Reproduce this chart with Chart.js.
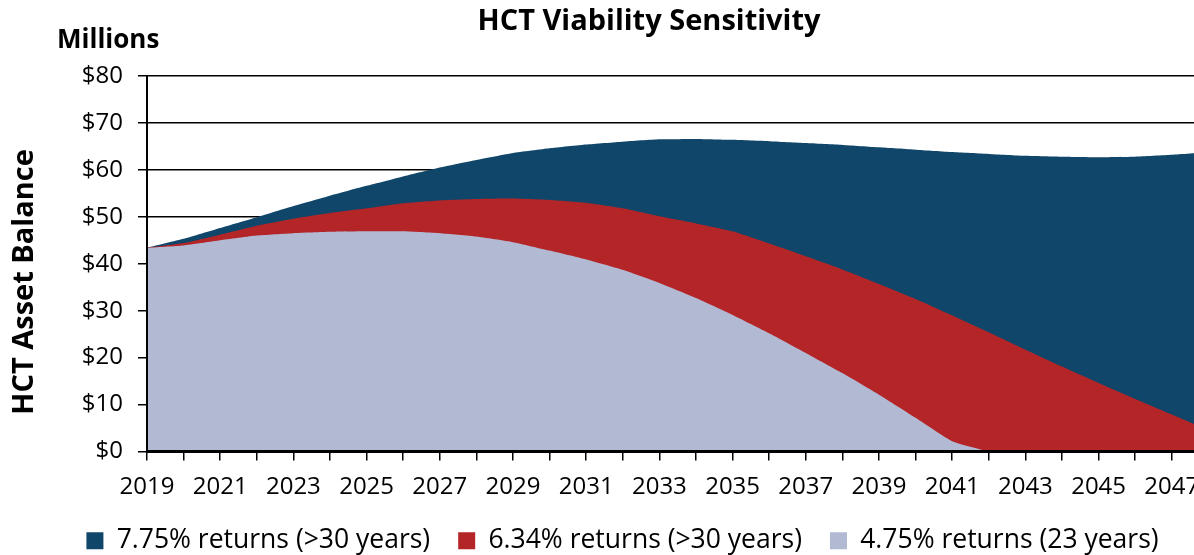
<!DOCTYPE html>
<html>
<head>
<meta charset="utf-8">
<script src="https://cdn.jsdelivr.net/npm/chart.js@4.4.1/dist/chart.umd.min.js"></script>
<style>
    html, body { margin: 0; padding: 0; background: #fff; overflow: hidden; }
    #wrap { width: 1194px; height: 555px; overflow: hidden; }
</style>
</head>
<body>
<div id="wrap"><canvas id="hctChart" width="1245" height="565"></canvas></div>
<script>
// Years on the x axis
const years = [2019, 2020, 2021, 2022, 2023, 2024, 2025, 2026, 2027, 2028,
    2029, 2030, 2031, 2032, 2033, 2034, 2035, 2036, 2037, 2038,
    2039, 2040, 2041, 2042, 2043, 2044, 2045, 2046, 2047, 2048];

// Asset balance in $ millions, one array per return scenario
const returns775 = [43.4, 45.3, 47.6, 49.9, 52.3, 54.5, 56.6, 58.6, 60.5, 62.1,
    63.6, 64.6, 65.4, 66.0, 66.5, 66.6, 66.4, 66.1, 65.7, 65.3,
    64.8, 64.3, 63.8, 63.4, 63.0, 62.8, 62.7, 62.8, 63.2, 63.8];
const returns634 = [43.4, 44.4, 46.2, 48.1, 49.6, 50.8, 51.8, 52.9, 53.5, 53.8,
    53.9, 53.6, 53.0, 51.8, 50.1, 48.6, 46.9, 44.3, 41.6, 38.8,
    35.7, 32.5, 29.0, 25.4, 21.7, 18.1, 14.6, 11.2, 7.9, 4.6];
const returns475 = [43.4, 43.9, 45.0, 46.0, 46.5, 46.8, 46.9, 46.9, 46.5, 45.8,
    44.6, 42.8, 40.9, 38.7, 35.9, 32.7, 29.1, 25.2, 21.0, 16.7,
    12.1, 7.2, 2.2, 0, null, null, null, null, null, null];

const seriesNames = ["7.75% returns (>30 years)", "6.34% returns (>30 years)", "4.75% returns (23 years)"];
const yTicks = [0, 10, 20, 30, 40, 50, 60, 70, 80];
const xMin = 2019, xMax = 2049; // axis runs one year past the last point

const chartTitle = "HCT Viability Sensitivity";
const unitLabel = "Millions";
const yAxisTitle = "HCT Asset Balance";

const FONT = '"Open Sans", "Noto Sans", sans-serif';

// title, "Millions" and the y title drawn by hand so they sit where the original has them
const headerText = {
    id: "headerText",
    afterDraw(chart) {
        const ctx = chart.ctx;
        ctx.save();
        ctx.fillStyle = "#000";
        ctx.textBaseline = "middle";
        ctx.textAlign = "center";
        ctx.font = "700 29px " + FONT;
        ctx.fillText(chartTitle, 649, 22);
        ctx.font = "700 26px " + FONT;
        ctx.textAlign = "left";
        ctx.fillText(unitLabel, 57, 41);
        ctx.translate(25, 282);
        ctx.rotate(-Math.PI / 2);
        ctx.textAlign = "center";
        ctx.font = "700 29px " + FONT;
        ctx.fillText(yAxisTitle, 0, 0);
        ctx.restore();
    }
};

// axis lines on top of the filled areas
const axisLines = {
    id: "axisLines",
    afterDatasetsDraw(chart) {
        const { ctx, chartArea } = chart;
        ctx.save();
        ctx.strokeStyle = "#000";
        ctx.lineWidth = 2;
        ctx.beginPath();
        ctx.moveTo(chartArea.left, chartArea.top);
        ctx.lineTo(chartArea.left, chartArea.bottom);
        ctx.stroke();
        ctx.lineWidth = 3;
        ctx.beginPath();
        ctx.moveTo(chartArea.left - 1, chartArea.bottom);
        ctx.lineTo(chartArea.right, chartArea.bottom);
        ctx.stroke();
        ctx.restore();
    }
};

function area(label, values, color, order) {
    return {
        label: label,
        data: years.map((yr, i) => ({ x: yr, y: values[i] })),
        backgroundColor: color,
        borderColor: color,
        borderWidth: 0,
        pointRadius: 0,
        fill: "origin",
        tension: 0.15,
        order: order
    };
}

const ctx = document.getElementById("hctChart").getContext("2d");
const chart = new Chart(ctx, {
    type: "line",
    data: {
        datasets: [
            area(seriesNames[0], returns775, "#10466a", 2),
            area(seriesNames[1], returns634, "#b32527", 1),
            area(seriesNames[2], returns475, "#b1b9d3", 0)
        ]
    },
    options: {
        responsive: false,
        animation: false,
        layout: { padding: { top: 76, right: 0, left: 0, bottom: 1 } },
        scales: {
            x: {
                type: "linear",
                min: xMin,
                max: xMax,
                border: { display: false },
                grid: { drawOnChartArea: false, drawTicks: true, tickLength: 9, color: "#000", lineWidth: 1.5 },
                afterFit: (scale) => { scale.height = 48; scale.paddingRight = 0; },
                ticks: {
                    stepSize: 1,
                    autoSkip: false,
                    maxRotation: 0,
                    padding: 15,
                    color: "#000",
                    font: { family: FONT, size: 24, lineHeight: 1 },
                    callback: (v) => ((v - xMin) % 2 === 0 && v < xMax ? String(v) : "")
                }
            },
            y: {
                min: yTicks[0],
                max: yTicks[yTicks.length - 1],
                border: { display: false },
                grid: { color: "#000", lineWidth: 1.5, tickLength: 9 },
                afterFit: (scale) => { scale.width = 147; },
                ticks: {
                    stepSize: 10,
                    padding: 15,
                    color: "#000",
                    font: { family: FONT, size: 24 },
                    callback: (v) => "$" + v
                }
            }
        },
        plugins: {
            legend: {
                position: "bottom",
                labels: {
                    boxWidth: 17,
                    boxHeight: 17,
                    padding: 28,
                    color: "#000",
                    font: { family: FONT, size: 26.5 },
                    sort: (a, b) => a.datasetIndex - b.datasetIndex
                }
            },
            tooltip: { enabled: false }
        }
    },
    plugins: [headerText, axisLines]
});
</script>
</body>
</html>
